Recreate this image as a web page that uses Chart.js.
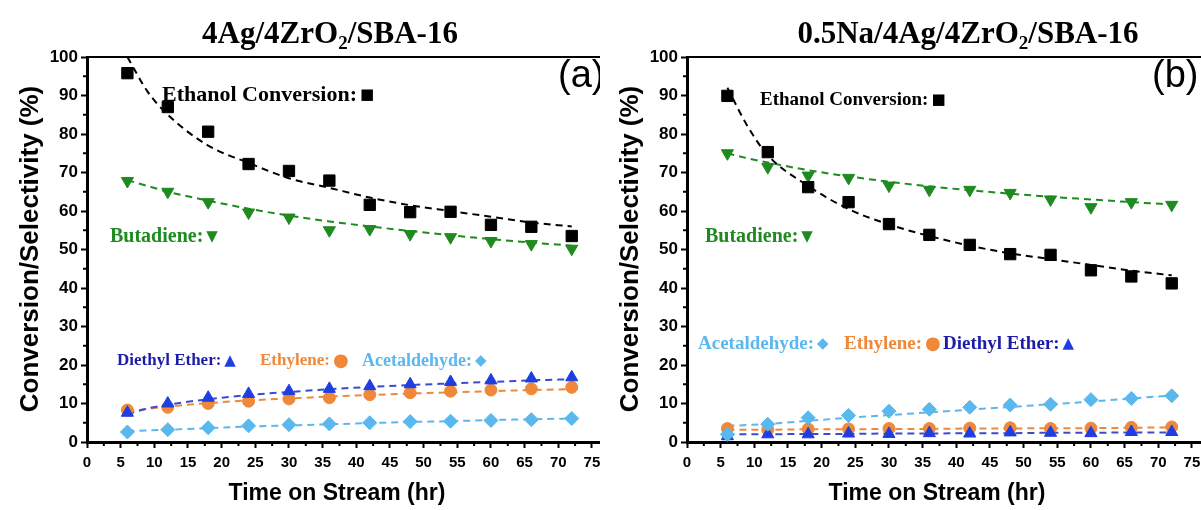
<!DOCTYPE html>
<html lang="en">
<head>
<meta charset="UTF-8" />
<title>Conversion / Selectivity vs Time on Stream</title>
<style>
  html, body { margin: 0; padding: 0; background: #fff; }
  .panel { position: absolute; top: 0; height: 510px; overflow: hidden; }
  #panelA { left: 0; width: 600px; }
  #panelB { left: 600px; width: 601px; }
  canvas { display: block; }
</style>
</head>
<body>
<div id="panelA" class="panel"><canvas id="chartA" width="640" height="510"></canvas></div>
<div id="panelB" class="panel"><canvas id="chartB" width="640" height="510"></canvas></div>

<script src="https://cdn.jsdelivr.net/npm/chart.js"></script>
<script>
// sampling times (hr)
const hours = [6, 12, 18, 24, 30, 36, 42, 48, 54, 60, 66, 72];
const fitHours = [6, 9, 12, 18, 24, 30, 36, 42, 48, 54, 60, 66, 72];
const xTicks = [0, 5, 10, 15, 20, 25, 30, 35, 40, 45, 50, 55, 60, 65, 70, 75, 80];
const yTicks = [0, 10, 20, 30, 40, 50, 60, 70, 80, 90, 100];

// (a) 4Ag/4ZrO2/SBA-16
const ethanolA   = [95.8, 87.0, 80.6, 72.2, 70.4, 67.9, 61.6, 59.7, 59.8, 56.4, 55.9, 53.5];
const butadieneA = [67.8, 65.0, 62.3, 59.6, 58.3, 55.0, 55.3, 54.0, 53.2, 52.2, 51.4, 50.2];
const etherA     = [7.6, 10.0, 11.5, 12.5, 13.2, 13.8, 14.5, 15.0, 15.6, 16.0, 16.5, 16.8];
const ethyleneA  = [8.3, 9.0, 10.0, 10.6, 11.2, 11.5, 12.3, 12.8, 13.2, 13.5, 13.8, 14.2];
const acetA      = [2.6, 3.2, 3.7, 4.2, 4.5, 4.7, 5.0, 5.3, 5.4, 5.6, 5.8, 6.1];

const ethanolFitA   = [100, 91, 85, 77, 72.5, 68.5, 66, 63.5, 61.5, 60, 58.5, 57, 56];
const butadieneFitA = [68, 66.5, 65, 62.7, 60.6, 58.8, 57.3, 56, 54.8, 53.7, 52.7, 51.8, 51];
const etherFitA     = [7.2, 8.7, 9.7, 11.1, 12.2, 13.0, 13.7, 14.3, 14.8, 15.2, 15.6, 16.0, 16.3];
const ethyleneFitA  = [7.8, 8.6, 9.2, 10.1, 10.8, 11.3, 11.8, 12.2, 12.6, 12.9, 13.2, 13.5, 13.7];
const acetFitA      = [2.9, 3.0, 3.2, 3.6, 4.0, 4.3, 4.6, 4.9, 5.2, 5.4, 5.7, 5.9, 6.1];

// (b) 0.5Na/4Ag/4ZrO2/SBA-16
const ethanolB   = [89.9, 75.3, 66.2, 62.3, 56.6, 53.8, 51.2, 48.8, 48.6, 44.6, 43.0, 41.2];
const butadieneB = [75.0, 71.4, 69.2, 68.6, 66.6, 65.5, 65.5, 64.7, 63.0, 61.0, 62.3, 61.6];
const acetB      = [2.0, 4.6, 6.3, 6.9, 8.0, 8.5, 9.0, 9.6, 9.8, 11.0, 11.3, 12.0];
const ethyleneB  = [3.5, 3.2, 3.4, 3.4, 3.5, 3.5, 3.6, 3.7, 3.5, 3.6, 3.8, 3.9];
const etherB     = [1.5, 2.0, 2.0, 2.2, 2.1, 2.3, 2.2, 2.5, 2.4, 2.3, 2.6, 2.6];

const ethanolFitB   = [92, 82, 74.5, 66.5, 60.5, 56.5, 53.5, 51, 49, 47.5, 46, 44.5, 43.3];
const butadieneFitB = [75, 73.7, 72.6, 70.6, 69.0, 67.6, 66.4, 65.4, 64.5, 63.7, 63.0, 62.3, 61.7];
const acetFitB      = [4.2, 4.4, 4.7, 5.5, 6.3, 7.0, 7.7, 8.4, 9.1, 9.8, 10.5, 11.3, 12.1];
const ethyleneFitB  = [3.2, 3.2, 3.2, 3.3, 3.3, 3.4, 3.4, 3.5, 3.5, 3.6, 3.6, 3.7, 3.8];
const etherFitB     = [2.0, 2.0, 2.0, 2.1, 2.1, 2.2, 2.2, 2.3, 2.3, 2.4, 2.4, 2.5, 2.5];

const C = {
  ethanol: '#000000',
  butadiene: '#1f8a1f',
  ether: '#1e3ee2', etherLine: '#3a4bd0', etherText: '#1c1ca8',
  ethylene: '#f0883a',
  acet: '#5ab8ee'
};

const pts = (xs, ys) => xs.map((x, i) => ({ x: x, y: ys[i] }));

const marker = (ys, color, style, r, rot) => ({
  data: pts(hours, ys), showLine: false,
  pointStyle: style, pointRadius: r, pointHoverRadius: r, rotation: rot || 0,
  backgroundColor: color, pointBorderColor: color, pointBorderWidth: 1
});
const fit = (ys, color) => ({
  data: pts(fitHours, ys), showLine: true, pointRadius: 0,
  borderColor: color, borderWidth: 2, borderDash: [7, 5],
  cubicInterpolationMode: 'monotone', fill: false
});

const serif = '"Liberation Serif", "Times New Roman", serif';
const sans = '"Liberation Sans", Arial, sans-serif';

// titles, frame, minor ticks and in-plot labels
const decor = {
  id: 'decor',
  afterDraw(chart, args, o) {
    const ctx = chart.ctx, a = chart.chartArea;
    const xs = chart.scales.x, ys = chart.scales.y;
    ctx.save();
    ctx.strokeStyle = '#000';
    ctx.lineWidth = 2;
    ctx.beginPath();
    ctx.moveTo(a.left - 1, a.top);
    ctx.lineTo(a.right, a.top);
    ctx.stroke();
    // minor ticks
    ctx.beginPath();
    for (let v = 2.5; v < 80; v += 5) {
      const px = xs.getPixelForValue(v);
      ctx.moveTo(px, a.bottom); ctx.lineTo(px, a.bottom + 4);
    }
    for (let v = 5; v < 100; v += 10) {
      const py = ys.getPixelForValue(v);
      ctx.moveTo(a.left, py); ctx.lineTo(a.left - 4, py);
    }
    ctx.stroke();

    // title with subscript 2
    ctx.fillStyle = '#000';
    ctx.textBaseline = 'alphabetic';
    ctx.textAlign = 'left';
    const big = 'bold 31px ' + serif, small = 'bold 19px ' + serif;
    ctx.font = big;
    const w1 = ctx.measureText(o.title[0]).width;
    const w3 = ctx.measureText(o.title[1]).width;
    ctx.font = small;
    const w2 = ctx.measureText('2').width;
    const tx = o.titleX - (w1 + w2 + w3) / 2;
    ctx.font = big; ctx.fillText(o.title[0], tx, 43);
    ctx.font = small; ctx.fillText('2', tx + w1, 49);
    ctx.font = big; ctx.fillText(o.title[1], tx + w1 + w2, 43);

    // panel tag
    ctx.font = '38px ' + sans;
    ctx.textBaseline = 'middle';
    ctx.fillText(o.tag, o.tagX, 77);

    // axis titles
    ctx.textAlign = 'center';
    ctx.font = 'bold 23px ' + sans;
    ctx.fillText('Time on Stream (hr)', 337, 494);
    ctx.save();
    ctx.translate(o.yTitleX, 249);
    ctx.rotate(-Math.PI / 2);
    ctx.font = 'bold 26px ' + sans;
    ctx.fillText('Conversion/Selectivity (%)', 0, 0);
    ctx.restore();

    // series labels
    ctx.textAlign = 'left';
    o.labels.forEach(l => {
      ctx.fillStyle = l.color;
      ctx.font = 'bold ' + (l.size || 19) + 'px ' + serif;
      ctx.fillText(l.text, l.x, l.y);
      const w = ctx.measureText(l.text).width;
      ctx.font = (l.sym === '\u25CF' ? 18 : 15) + 'px "DejaVu Sans", sans-serif';
      ctx.fillStyle = l.symColor || l.color;
      ctx.fillText(l.sym, l.x + w + 3, l.y);
    });
    ctx.restore();
  }
};

function makeChart(id, datasets, deco) {
  return new Chart(document.getElementById(id), {
    type: 'scatter',
    data: { datasets: datasets },
    plugins: [decor],
    options: {
      responsive: false,
      animation: false,
      layout: { padding: { top: 57, right: 10, left: 0, bottom: 0 } },
      plugins: { legend: { display: false }, tooltip: { enabled: false }, decor: deco },
      scales: {
        x: {
          type: 'linear', min: 0, max: 80.5,
          afterFit: s => { s.height = 68; },
          afterBuildTicks: s => { s.ticks = xTicks.map(v => ({ value: v })); },
          ticks: { autoSkip: false, maxRotation: 0, padding: 6, color: '#000',
                   font: { family: sans, size: 15, weight: 'bold' } },
          grid: { drawOnChartArea: false, drawTicks: true, tickLength: 6, tickWidth: 2, color: '#000' },
          border: { display: true, width: 3, color: '#000' }
        },
        y: {
          type: 'linear', min: 0, max: 100,
          afterFit: s => { s.width = 87; },
          afterBuildTicks: s => { s.ticks = yTicks.map(v => ({ value: v })); },
          ticks: { padding: 3, color: '#000', font: { family: sans, size: 17, weight: 'bold' } },
          grid: { drawOnChartArea: false, drawTicks: true, tickLength: 6, tickWidth: 2, color: '#000' },
          border: { display: true, width: 3, color: '#000' }
        }
      }
    }
  });
}

makeChart('chartA', [
  marker(ethanolA, C.ethanol, 'rect', 8),
  marker(butadieneA, C.butadiene, 'triangle', 7, 180),
  marker(etherA, C.ether, 'triangle', 7),
  marker(ethyleneA, C.ethylene, 'circle', 6),
  marker(acetA, C.acet, 'rectRot', 7),
  fit(ethanolFitA, C.ethanol),
  fit(butadieneFitA, C.butadiene),
  fit(etherFitA, C.etherLine),
  fit(ethyleneFitA, C.ethylene),
  fit(acetFitA, C.acet)
], {
  title: ['4Ag/4ZrO', '/SBA-16'], titleX: 330, tag: '(a)', tagX: 558, yTitleX: 31,
  labels: [
    { text: 'Ethanol Conversion:', sym: '\u25A0', x: 162, y: 95, color: C.ethanol, size: 22 },
    { text: 'Butadiene:', sym: '\u25BC', x: 110, y: 237, color: C.butadiene, size: 20 },
    { text: 'Diethyl Ether:', sym: '\u25B2', x: 117, y: 361, color: C.etherText, symColor: C.ether, size: 17 },
    { text: 'Ethylene:', sym: '\u25CF', x: 260, y: 361, color: C.ethylene, size: 17 },
    { text: 'Acetaldehyde:', sym: '\u25C6', x: 362, y: 361, color: C.acet, size: 18 }
  ]
});

makeChart('chartB', [
  marker(ethanolB, C.ethanol, 'rect', 8),
  marker(butadieneB, C.butadiene, 'triangle', 7, 180),
  marker(acetB, C.acet, 'rectRot', 7),
  marker(etherB, C.ether, 'triangle', 7),
  marker(ethyleneB, C.ethylene, 'circle', 6),
  fit(ethanolFitB, C.ethanol),
  fit(butadieneFitB, C.butadiene),
  fit(acetFitB, C.acet),
  fit(etherFitB, C.etherLine),
  fit(ethyleneFitB, C.ethylene)
], {
  title: ['0.5Na/4Ag/4ZrO', '/SBA-16'], titleX: 368, tag: '(b)', tagX: 552, yTitleX: 31,
  labels: [
    { text: 'Ethanol Conversion:', sym: '\u25A0', x: 160, y: 100, color: C.ethanol },
    { text: 'Butadiene:', sym: '\u25BC', x: 105, y: 237, color: C.butadiene, size: 20 },
    { text: 'Acetaldehyde:', sym: '\u25C6', x: 98, y: 344, color: C.acet },
    { text: 'Ethylene:', sym: '\u25CF', x: 244, y: 344, color: C.ethylene },
    { text: 'Diethyl Ether:', sym: '\u25B2', x: 343, y: 344, color: C.etherText, symColor: C.ether }
  ]
});
</script>
</body>
</html>
